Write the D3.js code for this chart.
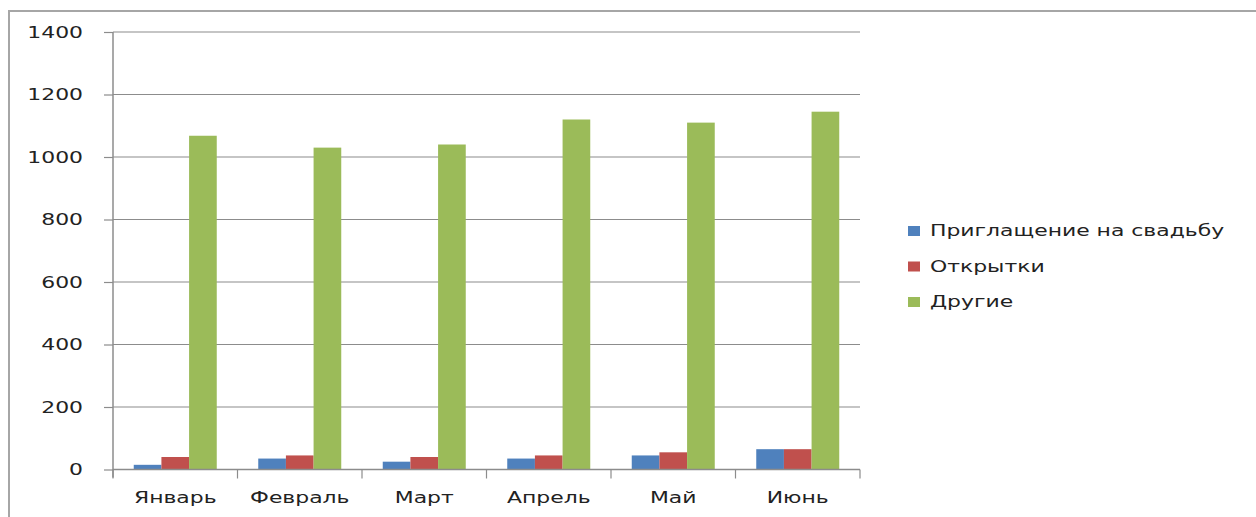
<!DOCTYPE html>
<html>
<head>
<meta charset="utf-8">
<script src="https://cdn.jsdelivr.net/npm/d3@7"></script>
<style>
  html, body { margin: 0; padding: 0; background: #fff; }
  svg { display: block; }
  text { font-family: "DejaVu Sans", Verdana, sans-serif; fill: #222; }
</style>
</head>
<body>
<svg id="chart" width="1256" height="517"></svg>
<script>
// Monthly orders by product type
const months = ["Январь", "Февраль", "Март", "Апрель", "Май", "Июнь"];
const seriesNames = ["Приглащение на свадьбу", "Открытки", "Другие"];
const invitations = [15, 35, 25, 35, 45, 65];
const postcards = [40, 45, 40, 45, 55, 65];
const others = [1068, 1030, 1040, 1120, 1110, 1145];
const yTicks = [0, 200, 400, 600, 800, 1000, 1200, 1400];
const colors = ["#4F81BD", "#C0504D", "#9BBB59"];

const seriesValues = [invitations, postcards, others];

const svg = d3.select("#chart");
const margin = { left: 113, right: 860, top: 32, bottom: 469.5 };
const stretch = 1.37; // horizontal widening of the label glyphs

// chart frame (top and left edges)
svg.append("path")
  .attr("d", "M9,517 V11 H1256")
  .attr("fill", "none")
  .attr("stroke", "#a6a6a6")
  .attr("stroke-width", 2);

const x = d3.scaleBand().domain(months).range([margin.left, margin.right]).paddingInner(0).paddingOuter(0);
const y = d3.scaleLinear().domain([0, 1400]).range([margin.bottom, margin.top]);

// group inner band: 3 bars + 150% gap
const barW = x.bandwidth() / 4.5;
const inner = d3.scaleBand().domain(d3.range(3)).range([0, barW * 3]);
const groupOffset = (x.bandwidth() - barW * 3) / 2;

// gridlines
svg.append("g")
  .selectAll("line")
  .data(yTicks.filter(t => t > 0))
  .join("line")
  .attr("x1", margin.left).attr("x2", margin.right)
  .attr("y1", d => y(d)).attr("y2", d => y(d))
  .attr("stroke", "#8c8c8c").attr("stroke-width", 1.2);

// bars
const groups = svg.append("g")
  .selectAll("g")
  .data(months)
  .join("g")
  .attr("transform", d => `translate(${x(d) + groupOffset},0)`);

groups.selectAll("rect")
  .data((m, i) => seriesValues.map((vals, s) => ({ s, v: vals[i] })))
  .join("rect")
  .attr("x", d => inner(d.s))
  .attr("width", inner.bandwidth())
  .attr("y", d => y(d.v))
  .attr("height", d => y(0) - y(d.v))
  .attr("fill", d => colors[d.s]);

// y axis
const yAxis = svg.append("g")
  .attr("transform", `translate(${margin.left},0)`)
  .call(d3.axisLeft(y).tickValues(yTicks).tickSize(9).tickPadding(0).tickFormat(d3.format("d")));
yAxis.select(".domain").attr("stroke", "#8c8c8c").attr("stroke-width", 1.5)
  .attr("d", `M0,${margin.top}V${margin.bottom + 8}`);
yAxis.selectAll(".tick line").attr("stroke", "#8c8c8c").attr("stroke-width", 1.2);
yAxis.selectAll(".tick text")
  .attr("x", null).attr("dy", null)
  .attr("text-anchor", "end")
  .attr("dominant-baseline", "central")
  .style("font-size", "16px")
  .style("font-family", "'DejaVu Sans', sans-serif")
  .attr("fill", "#222")
  .attr("transform", `translate(-30,0) scale(${stretch},1)`);

// x axis
const xAxis = svg.append("g")
  .attr("transform", `translate(0,${margin.bottom})`)
  .call(d3.axisBottom(x).tickSize(0).tickPadding(0));
xAxis.select(".domain").attr("stroke", "#8c8c8c").attr("stroke-width", 1.5)
  .attr("d", `M${margin.left},0H${margin.right}`);
xAxis.selectAll(".tick text")
  .attr("y", null).attr("dy", null)
  .attr("text-anchor", "middle")
  .style("font-size", "16px")
  .style("font-family", "'DejaVu Sans', sans-serif")
  .attr("fill", "#222")
  .attr("transform", `translate(0,33) scale(${stretch},1)`);

// category separator ticks
const bounds = months.map(m => x(m)).concat([margin.right]);
xAxis.append("g").selectAll("line")
  .data(bounds)
  .join("line")
  .attr("x1", d => d).attr("x2", d => d)
  .attr("y1", 0).attr("y2", 9)
  .attr("stroke", "#8c8c8c").attr("stroke-width", 1.2);

// legend
const legend = svg.append("g").attr("transform", "translate(908,231)");
const items = legend.selectAll("g")
  .data(seriesNames)
  .join("g")
  .attr("transform", (d, i) => `translate(0,${i * 35.5})`);
items.append("rect")
  .attr("x", 0).attr("y", -5).attr("width", 12).attr("height", 10)
  .attr("fill", (d, i) => colors[i]);
items.append("text")
  .attr("dominant-baseline", "central")
  .style("font-size", "16px")
  .attr("transform", `translate(22,0) scale(${stretch},1)`)
  .text(d => d);
</script>
</body>
</html>
